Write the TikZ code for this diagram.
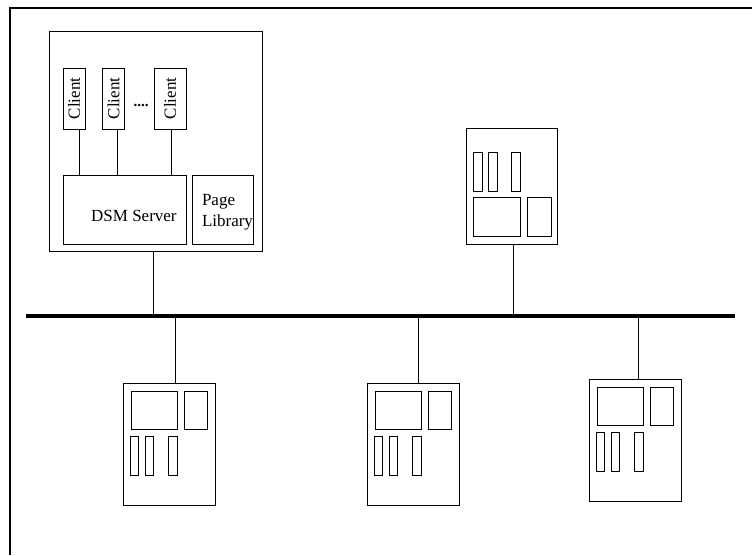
\documentclass[tikz,border=0pt]{standalone}
\usepackage{fontspec}
\setmainfont{Liberation Serif}
\usetikzlibrary{calc, positioning}

\begin{document}
\begin{tikzpicture}[x=1pt, y=-1pt, line width=0.8pt,
  box/.style={draw, inner sep=0pt, anchor=north west},
  client/.style={draw, inner sep=0pt, rotate=90, minimum width=61pt, minimum height=22pt},
  every node/.style={font=\fontsize{17}{21}\selectfont}]
  \useasboundingbox (0,0) rectangle (752,555);
  % frame
  \draw[line width=1.2pt] (10,555) -- (10,8) -- (752,8);
  % network bus
  \coordinate (busL) at (26,316);
  \coordinate (busR) at (735,316);
  \draw[line width=4pt] (busL) -- (busR);
  % server host
  \node[box, minimum width=213pt, minimum height=220pt] (server) at (49,31) {};
  \node[client] (c1) at (74,98.5) {Client};
  \node[client] (c2) at (113.5,98.5) {Client};
  \node[client, minimum height=32pt] (c3) at (170,98.5) {Client};
  \node[anchor=base, font=\fontsize{15}{17}\bfseries] (dots) at (141,106) {....};
  \node[box, minimum width=123pt, minimum height=69pt] (dsm) at (63,175) {};
  \node (dsmtxt) at ($(dsm.center)+(9,6)$) {DSM Server};
  \node[box, minimum width=61pt, minimum height=69pt] (plib) at (192,175) {};
  \node[align=left, inner sep=0pt] (pltxt) at (227.5,212) {Page\\Library};
  \draw ([xshift=5pt]c1.west) -- ([xshift=5pt]c1.west |- dsm.north);
  \draw ([xshift=3.5pt]c2.west) -- ([xshift=3.5pt]c2.west |- dsm.north);
  \draw ([xshift=1pt]c3.west) -- ([xshift=1pt]c3.west |- dsm.north);
  % host above the bus
  \node[box, minimum width=91pt, minimum height=116pt] (sttop) at (466,128) {};
  \begin{scope}[shift={(466,128)}]
    \draw (7,24) rectangle (16,63);
    \draw (22,24) rectangle (31,63);
    \draw (45,24) rectangle (54,63);
    \draw (7,69) rectangle (54,108);
    \draw (61,69) rectangle (85,108);
  \end{scope}
  % hosts below the bus
  \foreach \sx/\sy/\n in {123/383/a, 367/383/b, 589/379/c} {
    \node[box, minimum width=92pt, minimum height=122pt] (st\n) at (\sx,\sy) {};
    \begin{scope}[shift={(\sx,\sy)}]
      \draw (8,8) rectangle (54,46);
      \draw (61,8) rectangle (84,46);
      \draw (7,53) rectangle (15,92);
      \draw (22,53) rectangle (30,92);
      \draw (45,53) rectangle (54,92);
    \end{scope}
  }
  % taps on the bus
  \coordinate (tapS) at (153,316);
  \coordinate (tapT) at (513,316);
  \coordinate (tapA) at (175,316);
  \coordinate (tapB) at (418,316);
  \coordinate (tapC) at (638,316);
  \draw (server.south -| tapS) -- (tapS);
  \draw (sttop.south -| tapT) -- (tapT);
  \draw (tapA) -- (tapA |- sta.north);
  \draw (tapB) -- (tapB |- stb.north);
  \draw (tapC) -- (tapC |- stc.north);
\end{tikzpicture}
\end{document}
